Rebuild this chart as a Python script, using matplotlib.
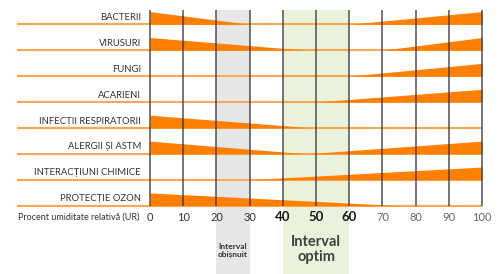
import matplotlib
matplotlib.use('Agg')
import matplotlib.pyplot as plt

# row categories, top to bottom
categories = [
    'BACTERII',
    'VIRUSURI',
    'FUNGI',
    'ACARIENI',
    'INFECȚII RESPIRATORII',
    'ALERGII ȘI ASTM',
    'INTERACȚIUNI CHIMICE',
    'PROTECȚIE OZON',
]

# breakpoints (% RH) and relative effect level for each row
bacterii_x = [0, 30, 60, 100]
bacterii_v = [1, 0, 0, 1]
virusuri_x = [0, 47, 70, 100]
virusuri_v = [1, 0, 0, 1]
fungi_x = [0, 60, 100]
fungi_v = [0, 0, 1]
acarieni_x = [0, 50, 100]
acarieni_v = [0, 0, 1]
infectii_x = [0, 49, 100]
infectii_v = [1, 0, 0]
alergii_x = [0, 47, 100]
alergii_v = [1, 0, 1]
chimice_x = [0, 30, 100]
chimice_v = [0, 0, 1]
ozon_x = [0, 75, 100]
ozon_v = [1, 0, 0]

rows_x = [bacterii_x, virusuri_x, fungi_x, acarieni_x,
          infectii_x, alergii_x, chimice_x, ozon_x]
rows_v = [bacterii_v, virusuri_v, fungi_v, acarieni_v,
          infectii_v, alergii_v, chimice_v, ozon_v]

ticks = [0, 10, 20, 30, 40, 50, 60, 70, 80, 90, 100]
bold_ticks = [40, 50, 60]
usual_range = [20, 30]
optimal_range = [40, 60]

plt.rcParams['font.family'] = ['Lato', 'DejaVu Sans']

fig = plt.figure(figsize=(5.02, 2.74), dpi=100)
ax = fig.add_axes([0, 0, 1, 1])
ax.set_xlim(-45.2, 106.0)
ax.set_ylim(9.64, -0.938)
ax.axis('off')

top = -0.552
wedge_h = 0.49
span_frac = (9.64 - top) / (9.64 + 0.938)

# shaded intervals
ax.axvspan(usual_range[0], usual_range[1], ymin=0, ymax=span_frac,
           color='#e6e6e6', lw=0, zorder=0)
ax.axvspan(optimal_range[0], optimal_range[1], ymin=0, ymax=span_frac,
           color='#ebf2db', lw=0, zorder=0)

# row baselines and labels
for i, name in enumerate(categories):
    ax.plot([-40, 100], [i, i], color='#f8a852', lw=1.5, zorder=1,
            solid_capstyle='butt')
    ax.text(-2.7, i - 0.17, name, ha='right', va='baseline',
            fontsize=6.8, color='#333333')

# wedges
for i, (xs, vs) in enumerate(zip(rows_x, rows_v)):
    ax.fill_between(xs, [i] * len(xs), [i - v * wedge_h for v in vs],
                    color='#ff8000', lw=0, zorder=2)

# vertical grid
for t in ticks:
    ax.plot([t, t], [top, len(categories) - 1], color='#333333', lw=1.1,
            alpha=0.85, zorder=3, solid_capstyle='butt')

# tick labels
for t in ticks:
    if t in bold_ticks:
        ax.text(t, 7.44, str(t), ha='center', va='center', fontsize=9.5,
                fontweight='bold', color='#1a1a1a')
    elif t < 40:
        ax.text(t, 7.44, str(t), ha='center', va='center', fontsize=8,
                color='#333333')
    else:
        ax.text(t, 7.44, str(t), ha='center', va='center', fontsize=8,
                color='#666666')

ax.text(-3.3, 7.44, 'Procent umiditate relativă (UR)', ha='right', va='center',
        fontsize=6.5, color='#333333')

ax.text(sum(usual_range) / 2, 8.73, 'Interval\nobișnuit', ha='center', va='center',
        fontsize=6, fontweight='bold', color='#333333', linespacing=1.3)
ax.text(sum(optimal_range) / 2, 8.7, 'Interval\noptim', ha='center', va='center',
        fontsize=10.5, fontweight='bold', color='#404040', linespacing=1.15)

fig.savefig('out.png', dpi=100)
